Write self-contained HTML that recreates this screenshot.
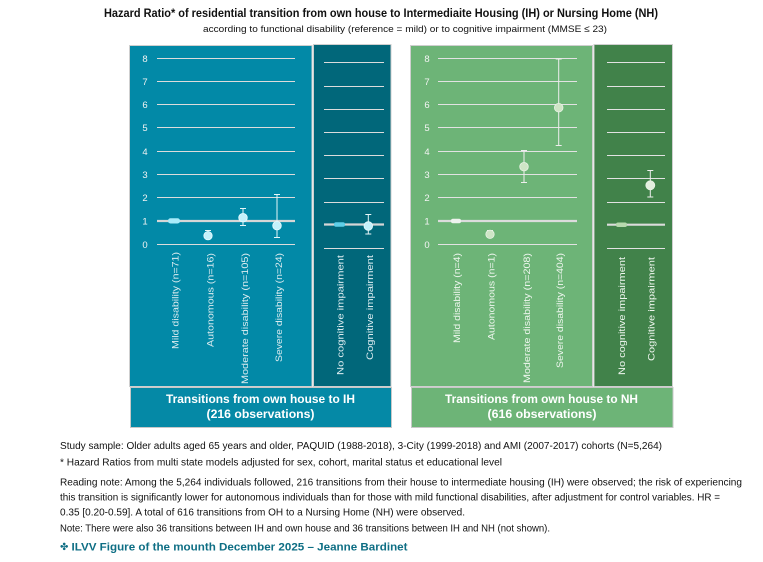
<!DOCTYPE html>
<html>
<head>
<meta charset="utf-8">
<style>
html,body{margin:0;padding:0;background:#fff;}
svg{display:block;}
text{font-family:"Liberation Sans",sans-serif;}
</style>
</head>
<body>
<svg width="763" height="562" viewBox="0 0 763 562" xmlns="http://www.w3.org/2000/svg">
<rect x="0" y="0" width="763" height="562" fill="#ffffff"/>

<!-- Title -->
<text x="104" y="17" font-size="12" font-weight="bold" fill="#111" textLength="554" lengthAdjust="spacingAndGlyphs">Hazard Ratio* of residential transition from own house to Intermediaite Housing (IH) or Nursing Home (NH)</text>
<text x="203" y="32" font-size="9.5" fill="#111" textLength="404" lengthAdjust="spacingAndGlyphs">according to functional disability (reference = mild) or to cognitive impairment (MMSE ≤ 23)</text>

<!-- Panels -->
<rect x="129.5" y="45.5" width="182.5" height="341" fill="#0289a7" stroke="#cfcfcf" stroke-width="1"/>
<rect x="313.5" y="44.5" width="77.5" height="342" fill="#01677a" stroke="#cfcfcf" stroke-width="1"/>
<rect x="410.5" y="45.5" width="182" height="341" fill="#6db477" stroke="#cfcfcf" stroke-width="1"/>
<rect x="594" y="44.5" width="78.5" height="342" fill="#41824a" stroke="#cfcfcf" stroke-width="1"/>

<!-- Bottom label boxes -->
<rect x="130.5" y="387.5" width="261" height="40" fill="#0589a6" stroke="#c8c8c8" stroke-width="1"/>
<rect x="411.5" y="387.5" width="261.5" height="40" fill="#6db477" stroke="#c8c8c8" stroke-width="1"/>
<text x="260.5" y="403" font-size="11.5" font-weight="bold" fill="#fff" text-anchor="middle" textLength="189" lengthAdjust="spacingAndGlyphs">Transitions from own house to IH</text>
<text x="260.5" y="418" font-size="11.5" font-weight="bold" fill="#fff" text-anchor="middle" textLength="108" lengthAdjust="spacingAndGlyphs">(216 observations)</text>
<text x="541.5" y="403" font-size="11.5" font-weight="bold" fill="#fff" text-anchor="middle" textLength="193" lengthAdjust="spacingAndGlyphs">Transitions from own house to NH</text>
<text x="542" y="418" font-size="11.5" font-weight="bold" fill="#fff" text-anchor="middle" textLength="109" lengthAdjust="spacingAndGlyphs">(616 observations)</text>

<!-- Teal left grid -->
<g stroke="#dcdcdc" stroke-width="1">
<line x1="157" y1="58.5" x2="295" y2="58.5"/>
<line x1="157" y1="81.5" x2="295" y2="81.5"/>
<line x1="157" y1="104.5" x2="295" y2="104.5"/>
<line x1="157" y1="127.5" x2="295" y2="127.5"/>
<line x1="157" y1="151.5" x2="295" y2="151.5"/>
<line x1="157" y1="174.5" x2="295" y2="174.5"/>
<line x1="157" y1="197.5" x2="295" y2="197.5"/>
<line x1="157" y1="244.5" x2="295" y2="244.5"/>
</g>
<line x1="157" y1="221" x2="295" y2="221" stroke="#d6d6d6" stroke-width="2.2"/>
<g font-size="9.5" fill="#f2f2f2" text-anchor="middle">
<text x="145" y="62">8</text><text x="145" y="85">7</text><text x="145" y="108">6</text>
<text x="145" y="131">5</text><text x="145" y="155">4</text><text x="145" y="178">3</text>
<text x="145" y="201">2</text><text x="145" y="224.5">1</text><text x="145" y="248">0</text>
</g>

<!-- Teal right grid -->
<g stroke="#dcdcdc" stroke-width="1">
<line x1="324" y1="62.5" x2="384" y2="62.5"/>
<line x1="324" y1="86.5" x2="384" y2="86.5"/>
<line x1="324" y1="109.5" x2="384" y2="109.5"/>
<line x1="324" y1="132.5" x2="384" y2="132.5"/>
<line x1="324" y1="155.5" x2="384" y2="155.5"/>
<line x1="324" y1="178.5" x2="384" y2="178.5"/>
<line x1="324" y1="202.5" x2="384" y2="202.5"/>
<line x1="324" y1="248.5" x2="384" y2="248.5"/>
</g>
<line x1="324" y1="224.5" x2="384" y2="224.5" stroke="#d6d6d6" stroke-width="2.2"/>

<!-- Green left grid -->
<g stroke="#e2e2e2" stroke-width="1">
<line x1="438" y1="58.5" x2="577" y2="58.5"/>
<line x1="438" y1="81.5" x2="577" y2="81.5"/>
<line x1="438" y1="104.5" x2="577" y2="104.5"/>
<line x1="438" y1="127.5" x2="577" y2="127.5"/>
<line x1="438" y1="151.5" x2="577" y2="151.5"/>
<line x1="438" y1="174.5" x2="577" y2="174.5"/>
<line x1="438" y1="197.5" x2="577" y2="197.5"/>
<line x1="438" y1="244.5" x2="577" y2="244.5"/>
</g>
<line x1="438" y1="221" x2="577" y2="221" stroke="#dcdcdc" stroke-width="2.2"/>
<g font-size="9.5" fill="#f4f4f4" text-anchor="middle">
<text x="427" y="62">8</text><text x="427" y="85">7</text><text x="427" y="108">6</text>
<text x="427" y="131">5</text><text x="427" y="155">4</text><text x="427" y="178">3</text>
<text x="427" y="201">2</text><text x="427" y="224.5">1</text><text x="427" y="248">0</text>
</g>

<!-- Green right grid -->
<g stroke="#e2e2e2" stroke-width="1">
<line x1="607" y1="62.5" x2="665" y2="62.5"/>
<line x1="607" y1="86.5" x2="665" y2="86.5"/>
<line x1="607" y1="109.5" x2="665" y2="109.5"/>
<line x1="607" y1="132.5" x2="665" y2="132.5"/>
<line x1="607" y1="155.5" x2="665" y2="155.5"/>
<line x1="607" y1="178.5" x2="665" y2="178.5"/>
<line x1="607" y1="202.5" x2="665" y2="202.5"/>
<line x1="607" y1="248.5" x2="665" y2="248.5"/>
</g>
<line x1="607" y1="224.7" x2="665" y2="224.7" stroke="#dcdcdc" stroke-width="2.2"/>

<!-- Teal data -->
<g stroke="#e6f6f8" stroke-width="1" fill="none">
<line x1="208" y1="230.5" x2="208" y2="239"/><line x1="205" y1="230.5" x2="211" y2="230.5"/>
<line x1="243" y1="208.5" x2="243" y2="225.5"/><line x1="240" y1="208.5" x2="246" y2="208.5"/><line x1="240" y1="225.5" x2="246" y2="225.5"/>
<line x1="277" y1="194.5" x2="277" y2="237.5"/><line x1="274" y1="194.5" x2="280" y2="194.5"/><line x1="274" y1="237.5" x2="280" y2="237.5"/>
<line x1="368.3" y1="214.5" x2="368.3" y2="234"/><line x1="365.3" y1="214.5" x2="371.3" y2="214.5"/><line x1="365.3" y1="234" x2="371.3" y2="234"/>
</g>
<rect x="168" y="218.3" width="12" height="5.2" rx="2.5" fill="#a8ebfa"/>
<rect x="334" y="222.2" width="11" height="4.6" rx="2" fill="#5fcfe8"/>
<g fill="#c4f1fb" stroke="#e9fbff" stroke-width="0.8">
<circle cx="208" cy="235.7" r="4.2"/>
<circle cx="243" cy="217.7" r="4.3"/>
<circle cx="277" cy="225.7" r="4.3"/>
<circle cx="368.3" cy="226" r="4.3"/>
</g>

<!-- Green data -->
<g stroke="#eeeeee" stroke-width="1" fill="none">
<line x1="490" y1="230.5" x2="490" y2="237"/><line x1="487" y1="230.5" x2="493" y2="230.5"/>
<line x1="524" y1="150.5" x2="524" y2="182.5"/><line x1="521" y1="150.5" x2="527" y2="150.5"/><line x1="521" y1="182.5" x2="527" y2="182.5"/>
<line x1="558.7" y1="59" x2="558.7" y2="145.5"/><line x1="555.7" y1="59" x2="561.7" y2="59"/><line x1="555.7" y1="145.5" x2="561.7" y2="145.5"/>
<line x1="650.3" y1="170.5" x2="650.3" y2="197"/><line x1="647.3" y1="170.5" x2="653.3" y2="170.5"/><line x1="647.3" y1="197" x2="653.3" y2="197"/>
</g>
<rect x="451" y="218.8" width="10" height="4.5" rx="2" fill="#eef3ee"/>
<rect x="616" y="222.5" width="11" height="4.5" rx="2" fill="#b7d9ae"/>
<g fill="#cfe5c6" stroke="#e9f3e6" stroke-width="0.8">
<circle cx="490" cy="234.3" r="4.2"/>
<circle cx="524" cy="166.7" r="4.3"/>
<circle cx="558.7" cy="107.7" r="4.3"/>
<circle cx="650.3" cy="185.3" r="4.5" fill="#e3efdf"/>
</g>

<!-- Rotated category labels: teal -->
<g font-size="9.5" fill="#dcecf0" text-anchor="end">
<text transform="translate(178.5,252) rotate(-90)" textLength="97" lengthAdjust="spacingAndGlyphs">Mild disability (n=71)</text>
<text transform="translate(213.5,253) rotate(-90)" textLength="94" lengthAdjust="spacingAndGlyphs">Autonomous (n=16)</text>
<text transform="translate(247.8,253) rotate(-90)" textLength="131" lengthAdjust="spacingAndGlyphs">Moderate disability (n=105)</text>
<text transform="translate(281.8,253) rotate(-90)" textLength="109" lengthAdjust="spacingAndGlyphs">Severe disability (n=24)</text>
<text transform="translate(343.5,255) rotate(-90)" textLength="120" lengthAdjust="spacingAndGlyphs">No cognitive impairment</text>
<text transform="translate(372.8,255) rotate(-90)" textLength="105" lengthAdjust="spacingAndGlyphs">Cognitive impairment</text>
</g>
<!-- Rotated category labels: green -->
<g font-size="9.5" fill="#eef6ee" text-anchor="end">
<text transform="translate(460.2,253) rotate(-90)" textLength="90" lengthAdjust="spacingAndGlyphs">Mild disability (n=4)</text>
<text transform="translate(494.5,253) rotate(-90)" textLength="87" lengthAdjust="spacingAndGlyphs">Autonomous (n=1)</text>
<text transform="translate(530.2,253) rotate(-90)" textLength="130" lengthAdjust="spacingAndGlyphs">Moderate disability (n=208)</text>
<text transform="translate(562.8,253) rotate(-90)" textLength="115" lengthAdjust="spacingAndGlyphs">Severe disability (n=404)</text>
<text transform="translate(625.2,257) rotate(-90)" textLength="118" lengthAdjust="spacingAndGlyphs">No cognitive impairment</text>
<text transform="translate(654.5,257) rotate(-90)" textLength="104" lengthAdjust="spacingAndGlyphs">Cognitive impairment</text>
</g>

<!-- Footer -->
<g font-size="10" fill="#111">
<text x="60" y="449" textLength="602" lengthAdjust="spacingAndGlyphs">Study sample: Older adults aged 65 years and older,  PAQUID (1988-2018), 3-City (1999-2018) and AMI (2007-2017) cohorts (N=5,264)</text>
<text x="60" y="465.5" textLength="442" lengthAdjust="spacingAndGlyphs">* Hazard Ratios from multi state models adjusted for sex,  cohort, marital status et educational level</text>
<text x="60" y="485.5" textLength="682" lengthAdjust="spacingAndGlyphs">Reading note: Among the 5,264 individuals followed, 216 transitions from their house to intermediate housing (IH) were observed; the risk of experiencing</text>
<text x="60" y="500.5" textLength="660" lengthAdjust="spacingAndGlyphs">this transition is significantly lower for autonomous individuals than for those with mild functional disabilities, after adjustment for control variables. HR =</text>
<text x="60" y="515.5" textLength="405" lengthAdjust="spacingAndGlyphs">0.35 [0.20-0.59].  A total of 616 transitions from OH to a Nursing Home (NH) were observed.</text>
<text x="60" y="531.5" textLength="490" lengthAdjust="spacingAndGlyphs">Note: There were also 36 transitions between IH and own house and 36 transitions between IH and NH (not shown).</text>
</g>
<text x="60" y="550" font-size="10" fill="#0e6e84">✤</text>
<text x="71.5" y="550.5" font-size="11" font-weight="bold" fill="#0e6e84" textLength="336" lengthAdjust="spacingAndGlyphs">ILVV Figure of the mounth December 2025 – Jeanne Bardinet</text>
</svg>
</body>
</html>
